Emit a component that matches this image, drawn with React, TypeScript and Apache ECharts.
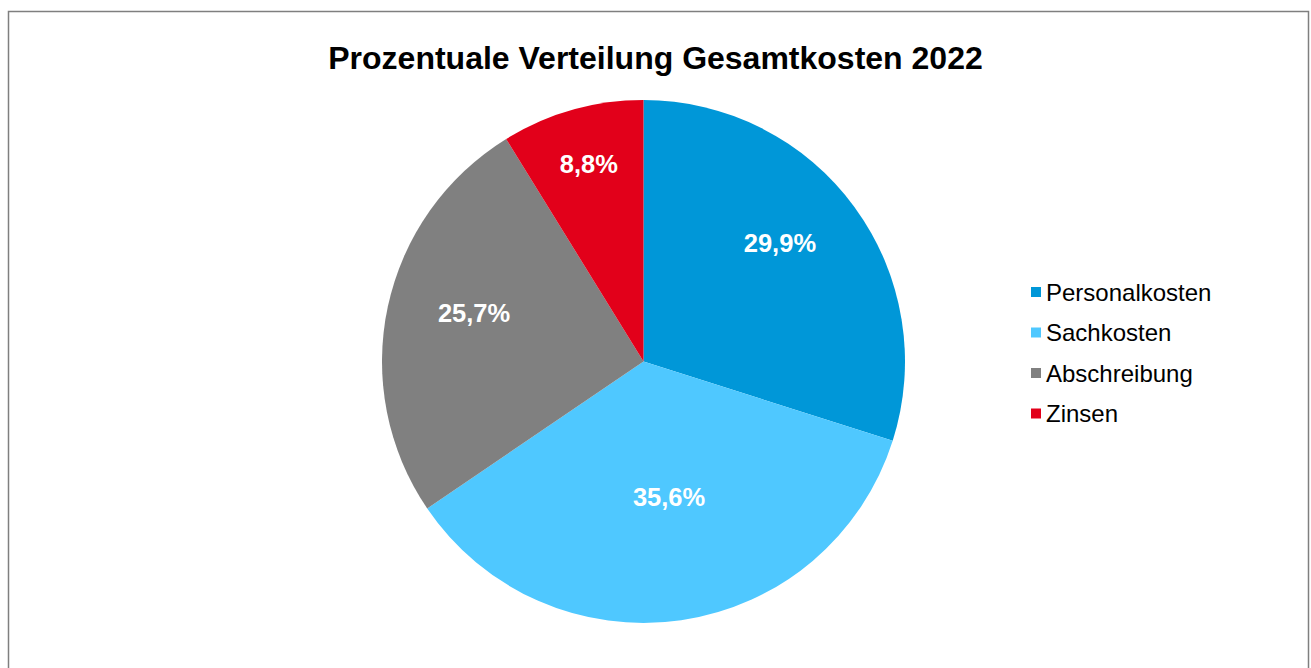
import React, { useEffect, useRef } from "react";
import * as echarts from "echarts";

const categories = ["Personalkosten", "Sachkosten", "Abschreibung", "Zinsen"];
const shares = [29.9, 35.6, 25.7, 8.8];
const colors = ["#0097D8", "#4FC8FF", "#808080", "#E2001A"];
const titleText = "Prozentuale Verteilung Gesamtkosten 2022";

const CX = 643.5;
const CY = 361.5;
const R = 261.5;
const labelRadiusFactor = [0.691, 0.527, 0.674, 0.784];
const labelAngleShiftDeg = [-4.8, -2.4, 3.9, 0.4];

export default function App() {
  const ref = useRef<HTMLDivElement>(null);
  useEffect(() => {
    if (!ref.current) return;
    const chart = echarts.init(ref.current, null, { renderer: "svg" });
    const total = shares.reduce((a, b) => a + b, 0);
    const cum: number[] = [];
    let acc = 0;
    shares.forEach((v) => {
      cum.push(acc + v / 2);
      acc += v;
    });
    chart.setOption({
      animation: false,
      backgroundColor: "#ffffff",
      title: {
        text: titleText,
        left: "center",
        top: 37,
        textStyle: {
          fontFamily: "Liberation Sans, Arial, sans-serif",
          fontSize: 32,
          fontWeight: "bold",
          color: "#000000",
        },
      },
      legend: {
        orient: "vertical",
        left: 1026,
        top: 275,
        itemWidth: 10,
        itemHeight: 10,
        itemGap: 16.5,
        icon: "rect",
        data: categories,
        textStyle: {
          fontFamily: "Liberation Sans, Arial, sans-serif",
          fontSize: 24,
          lineHeight: 24,
          color: "#000000",
        },
      },
      graphic: [
        {
          type: "rect",
          shape: { x: 8.5, y: 11.5, width: 1300, height: 700 },
          style: { fill: "none", stroke: "#7f7f7f", lineWidth: 1.5 },
          silent: true,
          z: 100,
        },
      ],
      series: [
        {
          type: "pie",
          center: [CX, CY],
          radius: [0, R],
          startAngle: 90,
          clockwise: true,
          data: categories.map((c, i) => ({
            name: c,
            value: shares[i],
            itemStyle: { color: colors[i] },
          })),
          itemStyle: { borderWidth: 0 },
          label: {
            show: true,
            position: "inside",
            formatter: (p: any) => p.value.toFixed(1).replace(".", ",") + "%",
            color: "#ffffff",
            fontFamily: "Liberation Sans, Arial, sans-serif",
            fontSize: 25.5,
            fontWeight: "bold",
          },
          labelLine: { show: false },
          labelLayout: (params: any) => {
            const i = params.dataIndex;
            const ang = (cum[i] / total) * 2 * Math.PI + (labelAngleShiftDeg[i] * Math.PI) / 180;
            const d = R * labelRadiusFactor[i];
            return {
              x: CX + d * Math.sin(ang),
              y: CY - d * Math.cos(ang),
              align: "center",
              verticalAlign: "middle",
            };
          },
          emphasis: { disabled: true },
        },
      ],
    });
    return () => chart.dispose();
  }, []);
  return (
    <div
      ref={ref}
      style={{ position: "absolute", left: 0, top: 0, width: 1311, height: 668 }}
    />
  );
}
